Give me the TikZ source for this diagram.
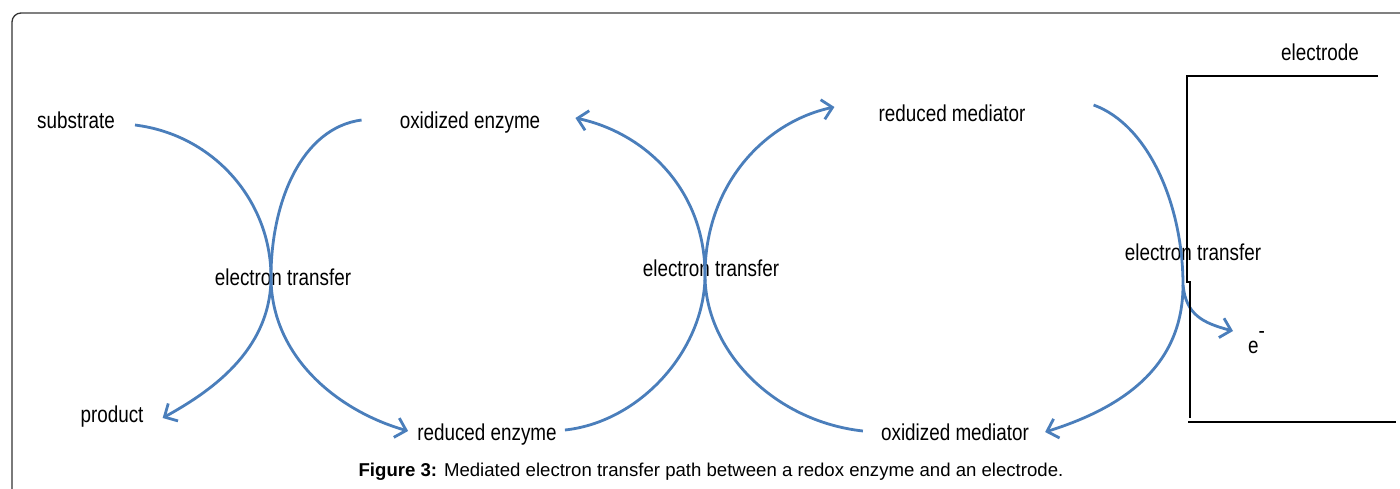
\documentclass[tikz,border=0pt]{standalone}
\usepackage{fontspec}
\setmainfont{Liberation Sans}
\newfontfamily\labelfont{Liberation Sans}[FakeStretch=0.82]
\usepackage{tikz}
\usetikzlibrary{arrows.meta}
\definecolor{lineblue}{RGB}{74,126,187}
\tikzstyle{species} = [font=\labelfont\fontsize{23}{27}\selectfont, inner sep=1pt]
\tikzstyle{flow} = [draw=lineblue, line width=2.8pt, -{Straight Barb[length=10pt,width=20pt]}]
\tikzstyle{wall} = [draw=black, line width=2.4pt]

\begin{document}
\begin{tikzpicture}[x=1pt, y=-1pt]
\useasboundingbox (0,0) rectangle (1400,488);
\draw[gray, line width=1.5pt] (21,13) -- (1400,13);
\draw[black!80, line width=1.3pt] (12,490) -- (12,22) arc[start angle=180, end angle=270, radius=9];

\node[species] (sub) at (76,120) {substrate};
\node[species] (prod) at (112,417) {product};
\node[species] (oxenz) at (470,123) {oxidized enzyme};
\node[species] (redenz) at (487,435) {reduced enzyme};
\node[species] (redmed) at (952,113) {reduced mediator};
\node[species] (oxmed) at (955,432) {oxidized mediator};
\node[species] (et1) at (283,277) {electron transfer};
\node[species] (et2) at (711,268) {electron transfer};
\node[species] (et3) at (1193,252) {electron transfer};
\node[species] (electrode) at (1320,52) {electrode};
\node[species, anchor=base west] (elec) at (1247,353) {e\raisebox{15pt}{-}};
\coordinate (x1) at (271,277);
\coordinate (x2) at (705,275);
\coordinate (x3) at (1183,285);
\coordinate (eout) at (1233,331);

% enzyme turns substrate into product
\draw[flow] ([shift={(19,5)}]sub.east) .. controls +(80,10) and +(0,-75) .. (x1) .. controls +(0,75) and +(45,-25) .. ([shift={(18,1)}]prod.east);
\draw[flow] ([shift={(-37,-3)}]oxenz.west) .. controls +(-60,8) and +(0,-75) .. (x1) .. controls +(0,80) and +(-70,-20) .. ([shift={(-8,-4)}]redenz.west);
% mediator
\draw[flow] ([shift={(7,-5)}]redenz.east) .. controls +(75,-8) and +(0,75) .. (x2) .. controls +(0,-85) and +(70,15) .. ([shift={(34,-5)}]oxenz.east);
\draw[flow] ([shift={(-17,-1)}]oxmed.west) .. controls +(-90,-10) and +(0,75) .. (x2) .. controls +(0,-90) and +(-70,15) .. ([shift={(-43,-6)}]redmed.west);
% electrode
\draw[flow] ([shift={(67,-8)}]redmed.east) .. controls +(55,20) and +(0,-80) .. (x3) .. controls +(0,80) and +(80,-25) .. ([shift={(15,0)}]oxmed.east);
\draw[flow] (x3) .. controls +(3,30) and +(-30,-8) .. (eout);
\draw[wall] (1378,76) -- (1187,76) -- (1187,282) -- (1190,282) -- (1190,418);
\draw[wall] (1188,422) -- (1396,422);

\node (cap) at (711,472) {\fontsize{18.6}{22}\selectfont\textbf{Figure 3:} Mediated electron transfer path between a redox enzyme and an electrode.};
\end{tikzpicture}
\end{document}
